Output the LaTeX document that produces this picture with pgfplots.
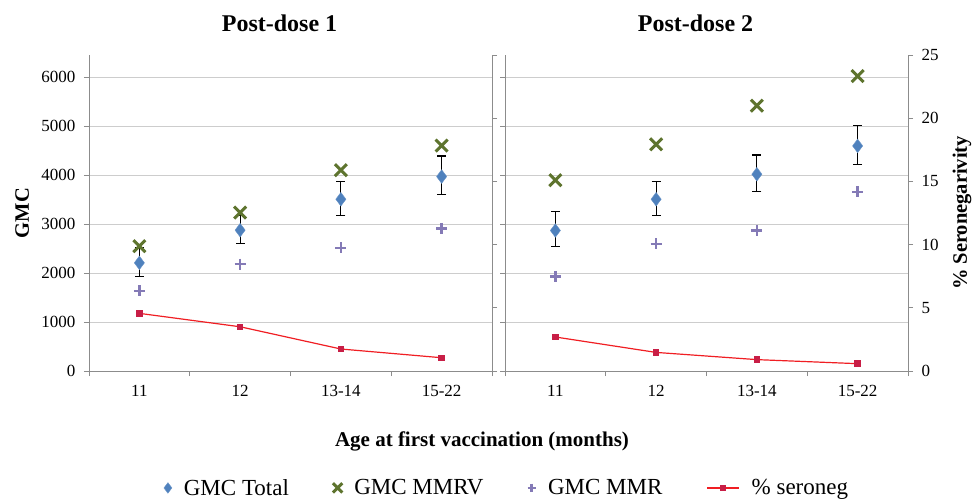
\documentclass[border=0pt]{standalone}
\usepackage{pgfplots}
\pgfplotsset{compat=1.18}
\usepackage{pgfplotstable}
\usepackage{fontspec}
\setmainfont{Liberation Serif}
\definecolor{cblue}{RGB}{79,129,189}
\definecolor{cgreen}{RGB}{94,116,46}
\definecolor{cpurple}{RGB}{132,122,182}
\definecolor{cred}{RGB}{240,30,35}
\definecolor{cmark}{RGB}{200,30,70}
\definecolor{caxis}{RGB}{140,140,140}
\definecolor{cgrid}{RGB}{205,205,205}

% Post-dose 1
\pgfplotstableread{
x y ep em
0 2208 309 271
1 2875 301 272
2 3506 367 326
3 3969 421 361
}\totA
\pgfplotstableread{
x y
0 2548
1 3235
2 4098
3 4601
}\mmrvA
\pgfplotstableread{
x y
0 1637
1 2181
2 2514
3 2909
}\mmrA
\pgfplotstableread{
x y
0 4.56
1 3.50
2 1.74
3 1.05
}\negA
% Post-dose 2
\pgfplotstableread{
x y ep em
0 2868 394 326
1 3506 354 326
2 4016 394 353
3 4594 421 374
}\totB
\pgfplotstableread{
x y
0 3894
1 4628
2 5416
3 6021
}\mmrvB
\pgfplotstableread{
x y
0 1930
1 2596
2 2868
3 3656
}\mmrB
\pgfplotstableread{
x y
0 2.69
1 1.47
2 0.90
3 0.58
}\negB

\pgfplotsset{
 base/.style={
   scale only axis, width=403pt, height=316pt,
   xmin=-0.5, xmax=3.5,
   axis line style={caxis, line width=0.8pt, -},
   tick style={caxis, line width=0.8pt},
   tick align=outside,
   major tick length=5pt, minor tick length=5pt,
   /pgf/number format/assume math mode=true,
   /pgf/number format/1000 sep={},
   tick label style={font=\fontsize{17}{20}\selectfont},
 },
 gmc/.style={base, ymin=0, ymax=6450, ytick={0,1000,...,6000},
   axis x line*=bottom, axis y line*=left,
   ymajorgrids, grid style={cgrid, line width=0.8pt},
   xtick={0,1,2,3}, xticklabels={11,12,13-14,15-22},
   major x tick style={draw=none},
   minor xtick={-0.5,0.5,1.5,2.5,3.5},
   xticklabel style={yshift=-6pt},
   yticklabel style={xshift=-5pt},
 },
 pct/.style={base, ymin=0, ymax=25, ytick={0,5,...,25},
   axis x line=none, axis y line*=right,
   yticklabel style={xshift=5pt}},
 errst/.style={draw=none, mark=none, forget plot,
   error bars/.cd, y dir=both, y explicit,
   error bar style={black, line width=1.2pt},
   error mark options={black, rotate=90, mark size=4.5pt, line width=1.2pt}},
 totst/.style={only marks, mark=diamond*, mark size=6.8pt,
   mark options={fill=cblue, draw=cblue!85!white}},
 mmrvst/.style={only marks, mark=x, mark size=8.5pt,
   mark options={draw=cgreen, line width=3pt}},
 mmrst/.style={only marks, mark=+, mark size=5.5pt,
   mark options={draw=cpurple, line width=2.6pt}},
 negst/.style={cred, line width=1.2pt, mark=square*, mark size=2.6pt,
   mark options={fill=cmark, draw=cmark}},
 neglegend/.style={legend image code/.code={\draw[mark repeat=2,mark phase=2,##1]
     plot coordinates {(-8pt,0pt)(8pt,0pt)(24pt,0pt)};}},
}

\begin{document}
\begin{tikzpicture}
\useasboundingbox (0pt,0pt) rectangle (972pt,-500pt);

% ---- Panel 1 ----
\begin{axis}[gmc, at={(89pt,-371pt)}, anchor=south west,
  title={Post-dose 1},
  title style={font=\bfseries\fontsize{24}{28}\selectfont,
    at={(axis description cs:0.5,1)}, anchor=center, yshift=26pt, xshift=-11pt},
  ylabel={GMC},
  ylabel style={font=\bfseries\fontsize{20.5}{24}\selectfont,
    at={(axis description cs:-0.166,0.5)}, anchor=center},
  legend columns=4,
  legend style={draw=none, fill=none,
    at={(axis description cs:0.178,-0.370)}, anchor=west,
    font=\fontsize{23}{26}\selectfont,
    nodes={inner sep=0pt},
    column sep=12pt,
    /tikz/every even column/.append style={column sep=44pt}},
  legend image code/.code={\draw[mark repeat=2,mark phase=2,#1,
     every mark/.append style={scale=0.78}]
     plot coordinates {(0pt,0pt)(8pt,0pt)(16pt,0pt)};},
]
\addplot[errst] table[x=x, y=y, y error plus=ep, y error minus=em]{\totA};
\addplot[totst] table[x=x, y=y]{\totA};
\addplot[mmrvst] table[x=x, y=y]{\mmrvA};
\addplot[mmrst] table[x=x, y=y]{\mmrA};
\addlegendimage{negst, neglegend}
\legend{GMC Total, GMC MMRV, GMC MMR, \% seroneg}
\end{axis}
\begin{axis}[pct, at={(89pt,-371pt)}, anchor=south west, yticklabels={,,,,,}]
\addplot[negst] table[x=x, y=y]{\negA};
\end{axis}

% ---- Panel 2 ----
\begin{axis}[gmc, at={(505pt,-371pt)}, anchor=south west, yticklabels={,,,,,,},
  title={Post-dose 2},
  title style={font=\bfseries\fontsize{24}{28}\selectfont,
    at={(axis description cs:0.5,1)}, anchor=center, yshift=26pt, xshift=-11pt},
]
\addplot[errst] table[x=x, y=y, y error plus=ep, y error minus=em]{\totB};
\addplot[totst] table[x=x, y=y]{\totB};
\addplot[mmrvst] table[x=x, y=y]{\mmrvB};
\addplot[mmrst] table[x=x, y=y]{\mmrB};
\end{axis}
\begin{axis}[pct, at={(505pt,-371pt)}, anchor=south west,
  ylabel={\% Seronegarivity},
  ylabel style={font=\bfseries\fontsize{20.5}{24}\selectfont,
    at={(axis description cs:1.134,0.5)}, anchor=center},
]
\addplot[negst] table[x=x, y=y]{\negB};
\end{axis}

\node[font=\bfseries\fontsize{21}{25}\selectfont] at (482pt,-441pt)
  {Age at first vaccination (months)};
\end{tikzpicture}
\end{document}
